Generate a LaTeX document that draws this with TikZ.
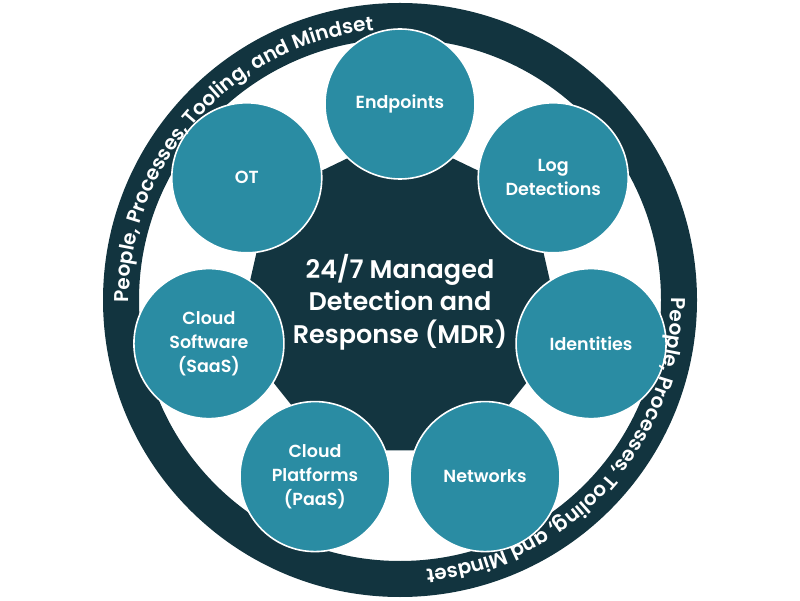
\documentclass[tikz,border=0pt]{standalone}
\usepackage{fontspec}
\setmainfont{Poppins}[BoldFont={Poppins SemiBold}]
\usetikzlibrary{shapes.geometric,decorations.text}
\definecolor{ringdark}{HTML}{12343F}
\definecolor{coredark}{HTML}{133540}
\definecolor{bubblecol}{HTML}{2A8CA3}
\tikzset{
  bubble/.style={circle, fill=bubblecol, draw=white, line width=1.6pt,
    minimum size=150pt, inner sep=0pt, text=white, align=center,
    font=\bfseries\fontsize{17.5}{24}\selectfont},
  ringtext/.style={decorate, decoration={text along path, text align=center,
    text={|\color{white}\bfseries\fontsize{20}{20}\selectfont|People, Processes, Tooling, and Mindset}}}
}
\begin{document}
\begin{tikzpicture}[x=1pt,y=1pt]
\useasboundingbox (0,0) rectangle (800,600);
\coordinate (C) at (400,300);
\draw[ringdark, line width=36pt] (C) circle[radius=279];
\node[regular polygon, regular polygon sides=7, minimum size=334pt, inner sep=0pt,
  fill=coredark] (core) at (C) {};
\node[bubble] (endp) at ([shift={(90:196)}]C) {Endpoints};
\node[bubble] (logd) at ([shift={(38.57:196)}]C) {Log\\Detections};
\node[bubble] (iden) at ([shift={(-12.86:196)}]C) {Identities};
\node[bubble] (netw) at ([shift={(-64.29:196)}]C) {Networks};
\node[bubble] (paas) at ([shift={(-115.71:196)}]C) {Cloud\\Platforms\\(PaaS)};
\node[bubble] (saas) at ([shift={(-167.14:196)}]C) {Cloud\\Software\\(SaaS)};
\node[bubble] (ot) at ([shift={(141.43:196)}]C) {OT};
\node[text=white, align=center, font=\bfseries\fontsize{25.5}{32.5}\selectfont]
  (mdrtext) at (400,298) {24/7 Managed\\Detection and\\Response (MDR)};
\path[ringtext] ([shift={(198:271)}]C) arc[start angle=198, end angle=78, radius=271];
\path[ringtext] ([shift={(18:271)}]C) arc[start angle=18, end angle=-102, radius=271];
\end{tikzpicture}
\end{document}
